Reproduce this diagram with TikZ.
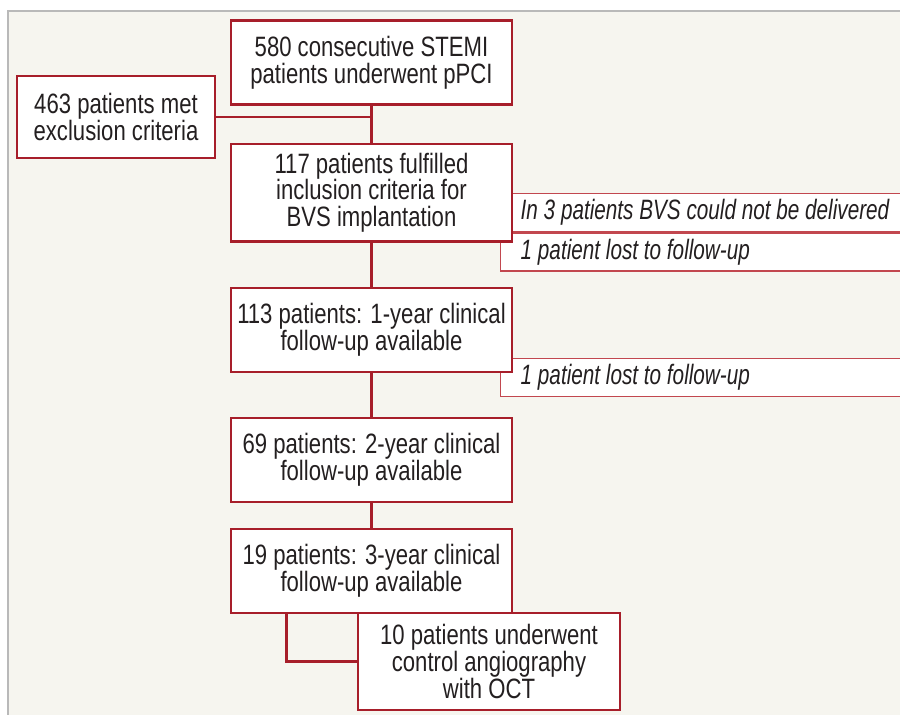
\documentclass[tikz,border=0pt]{standalone}
\usepackage{fontspec}
\setmainfont{Liberation Sans}[FakeStretch=0.79]
\newfontfamily\notefont{Liberation Sans}[FakeStretch=0.74]
\usepackage{tikz}
\usetikzlibrary{positioning,calc}
\usepackage{xcolor}
\definecolor{boxred}{HTML}{A71E2A}
\definecolor{notered}{HTML}{C2474F}
\definecolor{paper}{HTML}{F6F5EF}
\definecolor{framegray}{HTML}{B9B9B9}
\definecolor{inkgray}{HTML}{231F20}

\begin{document}
\begin{tikzpicture}[x=0.5pt, y=-0.5pt, font=\fontsize{14}{13.3}\selectfont, text=inkgray]
\tikzstyle{box} = [rectangle, draw=boxred, line width=1.1pt, fill=white, align=center, minimum width=140.5pt, minimum height=42pt, inner xsep=2pt, inner ysep=4.6pt]
\tikzstyle{note} = [rectangle, draw=notered, line width=0.7pt, fill=white, anchor=north west, text width=300pt, align=flush left, inner xsep=10pt, inner ysep=0pt, minimum height=19pt, font=\fontsize{14}{13.3}\notefont\itshape]
\tikzstyle{link} = [boxred, line width=1.1pt]

\useasboundingbox (0,0) rectangle (900,714);
\clip (0,0) rectangle (900,714);
% page
\fill [paper] (8,11) rectangle (910,720);
\draw [framegray, line width=1pt] (8,720) -- (8,11) -- (910,11);

% side notes, behind the boxes
\node [note] (nodeliv) at (500,193) {In 3 patients BVS could not be delivered};
\node [note] (lost1) at (nodeliv.south west) {1 patient lost to follow-up};
\node [note] (lost2) at (500,358) {1 patient lost to follow-up};

% main flow
\node [box] (stemi) at (371.5,62.5) {580 consecutive STEMI\\patients underwent pPCI};
\node [box, below=18.5pt of stemi] (incl) {117 patients fulfilled\\inclusion criteria for\\BVS implantation};
\node [box, below=22pt of incl] (fu1) {113 patients: 1-year clinical\\follow-up available};
\node [box, below=22pt of fu1] (fu2) {69 patients: 2-year clinical\\follow-up available};
\node [box, below=12.5pt of fu2] (fu3) {19 patients: 3-year clinical\\follow-up available};
\node [box, minimum width=131pt, minimum height=48.5pt] (oct) at (489,661.5) {10 patients underwent\\control angiography\\with OCT};
\node [box, minimum width=99pt, minimum height=41pt] (excl) at (116,117) {463 patients met\\exclusion criteria};

\draw [link] (stemi) -- (incl);
\draw [link] (excl) -- (excl -| stemi);
\draw [link] (incl) -- (fu1);
\draw [link] (fu1) -- (fu2);
\draw [link] (fu2) -- (fu3);
\draw [link] ($(fu3.south west)!0.2!(fu3.south east)$) |- (oct.west);
\end{tikzpicture}
\end{document}
